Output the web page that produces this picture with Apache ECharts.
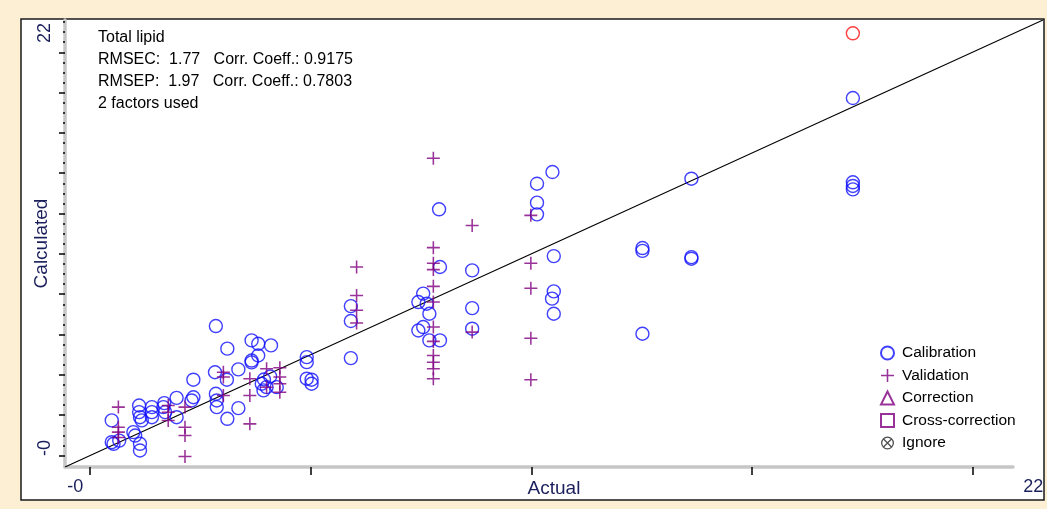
<!DOCTYPE html>
<html>
<head>
<meta charset="utf-8">
<script src="https://cdn.jsdelivr.net/npm/echarts@6/dist/echarts.min.js"></script>
<style>
  html, body { margin: 0; padding: 0; background: #fcefd4; }
  #chart { width: 1047px; height: 509px; }
</style>
</head>
<body>
<div id="chart"></div>
<script>
// calibration samples [actual, calculated]
const calibration = [
  [17.29, 17.73], [17.29, 13.55], [17.29, 13.37], [17.29, 13.20],
  [10.48, 14.06], [10.13, 13.48], [10.13, 12.54], [10.13, 11.96],
  [13.63, 13.73], [10.51, 9.89], [12.52, 10.29], [12.52, 10.15],
  [13.63, 9.84], [13.63, 9.76], [10.51, 8.14], [10.47, 7.78], [10.51, 7.03], [12.52, 6.04],
  [7.91, 12.21], [7.93, 9.35], [8.66, 9.18], [7.55, 8.03], [7.44, 7.61], [7.63, 7.53], [7.69, 7.03],
  [7.55, 6.37], [7.44, 6.20], [7.69, 5.71], [7.93, 5.71], [8.66, 7.31], [8.66, 6.29],
  [5.91, 7.41], [5.91, 6.67], [5.91, 4.83], [4.91, 4.88], [4.91, 4.63], [4.91, 3.81], [5.02, 3.76], [5.02, 3.56],
  [2.85, 6.42], [3.11, 5.30], [3.66, 5.71], [3.81, 5.54], [4.10, 5.46], [3.81, 4.96], [3.66, 4.71], [3.66, 4.62],
  [2.34, 3.76], [2.83, 4.13], [3.36, 4.27], [3.10, 3.76], [3.36, 2.35], [3.11, 1.82], [2.85, 3.06], [2.87, 2.73], [2.87, 2.40],
  [3.94, 3.77], [4.08, 3.92], [3.89, 3.56], [4.00, 3.39], [3.93, 3.23], [4.23, 3.39],
  [1.96, 2.86], [1.68, 2.60], [1.66, 2.40], [1.70, 2.15], [1.96, 1.90],
  [1.40, 2.40], [1.40, 2.15], [1.40, 1.90], [1.11, 2.48], [1.11, 2.15], [1.13, 1.90], [1.17, 1.74],
  [0.49, 1.74], [0.98, 1.16], [1.02, 0.99], [0.49, 0.66], [0.53, 0.58], [0.66, 0.74], [1.13, 0.58], [1.13, 0.25],
  [2.34, 2.89], [2.30, 2.73]
];
// the one calibration point drawn in red
const outlier = [[17.29, 20.94]];

const validation = [
  [7.78, 14.74], [8.66, 11.41], [7.78, 10.31], [7.78, 9.54], [7.78, 9.22], [7.78, 8.39], [7.78, 7.61],
  [7.78, 6.37], [7.78, 5.66], [7.78, 4.96], [7.78, 4.63], [7.78, 4.30], [7.78, 3.81], [8.66, 6.12],
  [6.04, 9.35], [6.04, 7.94], [6.04, 7.20], [6.04, 6.57],
  [9.99, 11.91], [9.99, 9.54], [9.99, 8.30], [9.99, 5.82], [9.99, 3.76],
  [0.64, 2.40], [0.64, 1.40], [0.64, 1.16], [0.64, 0.89],
  [1.77, 2.48], [1.77, 2.15], [1.77, 1.74],
  [2.15, 2.40], [2.15, 1.40], [2.15, 0.99], [2.15, -0.05],
  [3.02, 4.13], [3.02, 3.89], [3.02, 2.98],
  [3.62, 3.81], [3.62, 2.98], [3.62, 1.57],
  [4.00, 4.30], [4.00, 3.39],
  [4.30, 4.35], [4.30, 3.89], [4.30, 3.56], [4.30, 3.14]
];

const axisMin = -0.57;
const axisMax = 21.6;
const diagonal = [[axisMin, axisMin], [axisMax, axisMax]];

const xMajorTicks = [0, 5, 10, 15, 20];
const yMajorTicks = [0, 2, 4, 6, 8, 10, 12, 14, 16, 18, 20];
const yMinorTicks = [0.5, 1, 1.5, 2.5, 3, 3.5, 4.5, 5, 5.5, 6.5, 7, 7.5, 8.5, 9, 9.5, 10.5, 11, 11.5,
  12.5, 13, 13.5, 14.5, 15, 15.5, 16.5, 17, 17.5, 18.5, 19, 19.5, 20.5, 21, 21.5];
const minLabel = '-0';
const maxLabel = '22';

const legendNames = ['Calibration', 'Validation', 'Correction', 'Cross-correction', 'Ignore'];
const notes = [
  'Total lipid',
  'RMSEC:  1.77   Corr. Coeff.: 0.9175',
  'RMSEP:  1.97   Corr. Coeff.: 0.7803',
  '2 factors used'
];

const FONT = '"Liberation Sans", Arial, sans-serif';
const NAVY = '#1a1f5c';
const GRAY = '#c6c6c6';
const BLUE = '#1010ff';
const PURPLE = '#800080';

const plusPath = 'path://M4.4,0h1.2v10h-1.2zM0,4.4h10v1.2h-10z';
const ignorePath = 'path://M0,5A5,5 0 1,1 10,5A5,5 0 1,1 0,5ZM1,5A4,4 0 1,0 9,5A4,4 0 1,0 1,5Z' +
  'M1.9,1.2L8.8,8.1L8.1,8.8L1.2,1.9ZM8.1,1.2L8.8,1.9L1.9,8.8L1.2,8.1Z';

const pickLabel = v => (v < 10 ? minLabel : maxLabel);

const chart = echarts.init(document.getElementById('chart'));
chart.setOption({
  backgroundColor: '#fcefd4',
  animation: false,
  textStyle: { fontFamily: FONT },
  title: {
    text: notes.join('\n'),
    left: 98,
    top: 27,
    padding: 0,
    textStyle: { fontSize: 16, fontWeight: 'normal', color: '#000', lineHeight: 22, fontFamily: FONT }
  },
  legend: {
    data: legendNames,
    orient: 'vertical',
    left: 880,
    top: 345,
    padding: 0,
    itemWidth: 13,
    itemHeight: 13,
    itemGap: 6.5,
    selectedMode: false,
    textStyle: { fontSize: 15.5, color: '#000', lineHeight: 16, padding: [0, 0, 0, 3], fontFamily: FONT }
  },
  grid: [
    { left: 65, right: 4, top: 20, bottom: 42, outerBoundsMode: 'none', containLabel: false },
    { left: 65, right: 34, top: 20, bottom: 42, outerBoundsMode: 'none', containLabel: false },
    { left: 21, right: 3, top: 19, bottom: 9, outerBoundsMode: 'none', show: true, backgroundColor: '#fff', borderColor: '#1a1a1a', borderWidth: 1.5, z: -1 }
  ],
  xAxis: [
    {
      gridIndex: 0, type: 'value', position: 'bottom', min: axisMin, max: axisMax, z: 2,
      axisLine: { show: false, onZero: false },
      axisTick: { show: true, customValues: xMajorTicks, length: 8, lineStyle: { color: '#000', width: 1.5 } },
      axisLabel: { customValues: [-0.34, 21.38], formatter: pickLabel, fontSize: 18, color: NAVY, margin: 11, fontFamily: FONT },
      splitLine: { show: false },
      name: 'Actual', nameLocation: 'middle', nameGap: 12, nameMoveOverlap: false,
      nameTextStyle: { fontSize: 19, color: NAVY, fontFamily: FONT }
    },
    {
      gridIndex: 1, type: 'value', position: 'bottom', min: axisMin, max: axisMax, z: 1,
      axisLine: { show: true, onZero: false, lineStyle: { color: GRAY, width: 3.5 } },
      axisTick: { show: false }, axisLabel: { show: false }, splitLine: { show: false }
    },
    { gridIndex: 2, type: 'value', show: false }
  ],
  yAxis: [
    {
      gridIndex: 0, type: 'value', position: 'left', min: axisMin, max: axisMax, z: 1,
      axisLine: { show: true, onZero: false, lineStyle: { color: GRAY, width: 3.5 } },
      axisTick: { show: true, customValues: yMajorTicks, length: 6, lineStyle: { color: '#000', width: 1.5 } },
      axisLabel: { customValues: [0.37, 20.96], formatter: pickLabel, rotate: 90, fontSize: 18, color: NAVY, margin: 11, fontFamily: FONT },
      splitLine: { show: false },
      name: 'Calculated', nameLocation: 'middle', nameGap: 14, nameMoveOverlap: false,
      nameTextStyle: { fontSize: 19, color: NAVY, fontFamily: FONT }
    },
    {
      gridIndex: 0, type: 'value', position: 'left', min: axisMin, max: axisMax, z: 2,
      axisLine: { show: false, onZero: false },
      axisTick: { show: true, customValues: yMinorTicks, length: 2, lineStyle: { color: '#000', width: 1.5 } },
      axisLabel: { show: false }, splitLine: { show: false }
    },
    { gridIndex: 1, type: 'value', show: false, min: axisMin, max: axisMax },
    { gridIndex: 2, type: 'value', show: false }
  ],
  series: [
    {
      name: 'diagonal', type: 'line', xAxisIndex: 0, yAxisIndex: 0,
      data: diagonal, symbol: 'none', silent: true, z: 1,
      lineStyle: { color: '#000', width: 1.1 }
    },
    {
      name: 'Calibration', type: 'scatter', xAxisIndex: 0, yAxisIndex: 0,
      data: calibration, symbol: 'circle', symbolSize: 13, z: 3,
      itemStyle: { color: 'rgba(0,0,0,0)', borderColor: BLUE, borderWidth: 1.4 }
    },
    {
      name: 'Outlier', type: 'scatter', xAxisIndex: 0, yAxisIndex: 0,
      data: outlier, symbol: 'circle', symbolSize: 13, z: 3,
      itemStyle: { color: 'rgba(0,0,0,0)', borderColor: '#ff1010', borderWidth: 1.4 }
    },
    {
      name: 'Validation', type: 'scatter', xAxisIndex: 0, yAxisIndex: 0,
      data: validation, symbol: plusPath, symbolSize: 13, z: 3,
      itemStyle: { color: PURPLE }
    },
    {
      name: 'Correction', type: 'scatter', xAxisIndex: 0, yAxisIndex: 0,
      data: [], symbol: 'emptyTriangle', symbolSize: 13,
      itemStyle: { color: PURPLE, borderWidth: 1.4 }
    },
    {
      name: 'Cross-correction', type: 'scatter', xAxisIndex: 0, yAxisIndex: 0,
      data: [], symbol: 'emptyRect', symbolSize: 13,
      itemStyle: { color: PURPLE, borderWidth: 1.4 }
    },
    {
      name: 'Ignore', type: 'scatter', xAxisIndex: 0, yAxisIndex: 0,
      data: [], symbol: ignorePath, symbolSize: 13,
      itemStyle: { color: '#222' }
    }
  ]
});
</script>
</body>
</html>
